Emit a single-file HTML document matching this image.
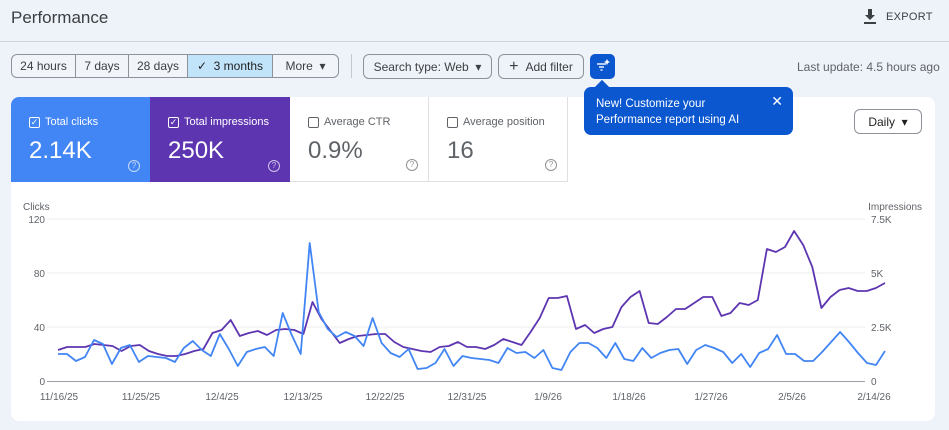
<!DOCTYPE html>
<html><head><meta charset="utf-8"><style>
*{box-sizing:border-box;margin:0;padding:0}
body{width:949px;height:430px;background:#eef2f9;font-family:"Liberation Sans",sans-serif;position:relative;overflow:hidden;color:#1f1f1f}
.abs{position:absolute}
.seg{position:absolute;top:54px;height:24px;border:1px solid #8e9199;font-size:12px;color:#3c4043;display:flex;align-items:center;justify-content:center;background:#f1f4f9}
.btn{position:absolute;top:54px;height:25px;border:1px solid #8e9199;border-radius:6px;font-size:12px;color:#3c4043;display:flex;align-items:center;justify-content:center}
.tile{position:absolute;top:97px;height:85px;width:139px;padding:19px 0 0 18px}
.tile .lb{font-size:11px;display:flex;align-items:center;gap:5px}
.cb{width:11px;height:11px;border:1.3px solid currentColor;border-radius:2px;font-size:9px;line-height:9px;text-align:center}
.tile .v{font-size:24px;margin-top:9px}
.q{position:absolute;right:10px;bottom:10px;width:12px;height:12px;border:1px solid currentColor;border-radius:50%;font-size:8px;text-align:center;line-height:10px;opacity:.7}
</style></head><body>
<div class="abs" style="left:11px;top:8px;font-size:17px;color:#3c4043">Performance</div>
<svg class="abs" style="left:863px;top:9px" width="14" height="16"><path d="M5 0h4v6h3l-5 5-5-5h3z" fill="#3c4043"/><rect x="1" y="13" width="12" height="2" fill="#3c4043"/></svg>
<div class="abs" style="left:886px;top:11px;font-size:11px;color:#3c4043;letter-spacing:.3px">EXPORT</div>
<div class="abs" style="left:0;top:41px;width:949px;height:1px;background:#d0d4da"></div>

<div class="seg" style="left:11px;width:65px;border-radius:6px 0 0 6px">24 hours</div>
<div class="seg" style="left:75px;width:54px">7 days</div>
<div class="seg" style="left:128px;width:60px">28 days</div>
<div class="seg" style="left:187px;width:86px;background:#c2e4fb;color:#1f1f1f">✓&nbsp; 3 months</div>
<div class="seg" style="left:272px;width:67px;border-radius:0 6px 6px 0">More &nbsp;▾</div>
<div class="abs" style="left:351px;top:54px;width:1px;height:24px;background:#c4c7cc"></div>
<div class="btn" style="left:363px;width:129px">Search type: Web &nbsp;▾</div>
<div class="btn" style="left:498px;width:86px"><span style="font-size:16px;margin-right:7px">+</span>Add filter</div>
<div class="abs" style="left:590px;top:54px;width:25px;height:25px;background:#0b57d0;border-radius:5px"></div>
<svg class="abs" style="left:596px;top:59px" width="14" height="14"><g stroke="#fff" stroke-width="1.4"><line x1="1" y1="5" x2="10" y2="5"/><line x1="3" y1="8" x2="8" y2="8"/><line x1="4.5" y1="11" x2="6.5" y2="11"/></g><path d="M11 0l1 2 2 1-2 1-1 2-1-2-2-1 2-1z" fill="#fff"/></svg>
<div class="abs" style="left:797px;top:60px;font-size:12px;color:#5f6368">Last update: 4.5 hours ago</div>

<div class="abs" style="left:11px;top:97px;width:924px;height:324px;background:#fff;border-radius:8px"></div>
<div class="tile" style="left:11px;background:#4285f4;color:#fff;border-radius:8px 0 0 0"><div class="lb"><span class="cb">✓</span>Total clicks</div><div class="v">2.14K</div><div class="q">?</div></div>
<div class="tile" style="left:150px;width:140px;background:#5e35b1;color:#fff"><div class="lb"><span class="cb">✓</span>Total impressions</div><div class="v">250K</div><div class="q">?</div></div>
<div class="tile" style="left:290px;background:#fff;color:#5f6368;border-right:1px solid #e0e0e0;border-bottom:1px solid #e0e0e0"><div class="lb"><span class="cb"></span>Average CTR</div><div class="v">0.9%</div><div class="q">?</div></div>
<div class="tile" style="left:429px;background:#fff;color:#5f6368;border-right:1px solid #e0e0e0;border-bottom:1px solid #e0e0e0"><div class="lb"><span class="cb"></span>Average position</div><div class="v">16</div><div class="q">?</div></div>

<div class="abs" style="left:597px;top:82px;width:10px;height:10px;background:#0b57d0;transform:rotate(45deg)"></div>
<div class="abs" style="left:584px;top:87px;width:209px;height:48px;background:#0b57d0;border-radius:7px;color:#fff;font-size:11.5px;line-height:16px;padding:9px 0 0 12px">New! Customize your<br>Performance report using AI<span style="position:absolute;right:10px;top:6px;font-size:14px">✕</span></div>
<div class="abs" style="left:854px;top:109px;width:68px;height:25px;border:1px solid #8e9199;border-radius:6px;font-size:12px;display:flex;align-items:center;justify-content:center">Daily &nbsp;▾</div>

<svg class="abs" style="left:0;top:0" width="949" height="430" id="ch" font-family="Liberation Sans" font-size="10" fill="#5f6368">
<text x="23" y="210">Clicks</text><text x="922" y="210" text-anchor="end">Impressions</text>
<g stroke="#eceef1"><line x1="47" x2="865" y1="219" y2="219"/><line x1="47" x2="865" y1="273" y2="273"/><line x1="47" x2="865" y1="327" y2="327"/></g>
<line x1="47" x2="865" y1="381.5" y2="381.5" stroke="#9aa0a6"/>
<g text-anchor="end"><text x="45" y="223">120</text><text x="45" y="277">80</text><text x="45" y="331">40</text><text x="45" y="385">0</text></g>
<g><text x="871" y="223">7.5K</text><text x="871" y="277">5K</text><text x="871" y="331">2.5K</text><text x="871" y="385">0</text></g>
<g text-anchor="middle"><text x="59" y="400">11/16/25</text><text x="141" y="400">11/25/25</text><text x="222" y="400">12/4/25</text><text x="303" y="400">12/13/25</text><text x="385" y="400">12/22/25</text><text x="467" y="400">12/31/25</text><text x="548" y="400">1/9/26</text><text x="629" y="400">1/18/26</text><text x="711" y="400">1/27/26</text><text x="792" y="400">2/5/26</text><text x="874" y="400">2/14/26</text></g>
</svg>
<script>
var b=[354,354,361,357,340,344,364,348,345,362,356,357,358,362,348,341,350,356,334,349,366,352,349,347,356,313,335,354,243,312,329,337,332,336,346,318,343,353,357,349,369,368,363,349,366,356,358,359,
360,363,348,353,352,358,350,368,370,352,343,343,348,358,343,359,361,348,358,353,350,349,364,350,345,348,352,363,354,367,353,349,335,354,354,361,361,352,342,332,342,353,363,365,351];
var p=[350,347,347,347,344,345,346,351,346,345,351,354,356,356,354,351,349,333,330,320,336,333,331,335,330,329,330,334,302,319,331,343,339,336,335,334,334,342,347,349,351,352,347,346,342,347,347,349,
345,339,342,345,332,318,298,298,296,329,325,333,329,327,307,297,291,323,324,317,309,309,303,297,297,316,313,303,305,300,249,252,247,231,245,267,308,297,290,288,291,291,288,283];
function pl(a,c){var n=a.length,s="";for(var i=0;i<n;i++)s+=(58+i*(885-58)/(n-1)).toFixed(1)+","+a[i]+" ";
var e=document.createElementNS("http://www.w3.org/2000/svg","polyline");e.setAttribute("points",s);e.setAttribute("fill","none");e.setAttribute("stroke",c);e.setAttribute("stroke-width","1.8");e.setAttribute("stroke-linejoin","round");document.getElementById("ch").appendChild(e);}
pl(p,"#5e35b1");pl(b,"#4285f4");
</script>
</body></html>
